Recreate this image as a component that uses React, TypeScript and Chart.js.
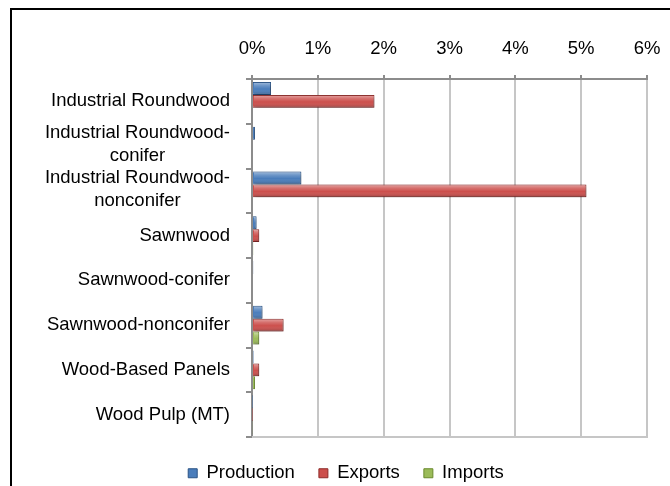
import React, { useEffect, useRef } from "react";
import { Chart, registerables } from "chart.js";

Chart.register(...registerables);

const FONT = '"Liberation Sans", Arial, Helvetica, sans-serif';
const FS = 18.5;

const categories: (string | string[])[] = [
  "Industrial Roundwood",
  ["Industrial Roundwood-", "conifer"],
  ["Industrial Roundwood-", "nonconifer"],
  "Sawnwood",
  "Sawnwood-conifer",
  "Sawnwood-nonconifer",
  "Wood-Based Panels",
  "Wood Pulp (MT)",
];

const production = [0.29, 0.045, 0.75, 0.07, 0.02, 0.16, 0.025, 0.005];
const exportsShare = [1.86, 0.0, 5.08, 0.11, 0.015, 0.48, 0.11, 0.005];
const imports = [0.0, 0.0, 0.0, 0.02, 0.0, 0.11, 0.045, 0.01];

const xTickLabels = ["0%", "1%", "2%", "3%", "4%", "5%", "6%"];

const seriesNames = ["Production", "Exports", "Imports"];
const seriesFill = ["#4a7dbb", "#cc4f4c", "#9bbb59"];
const seriesBorder = ["#2b5486", "#8e2b29", "#6a8a2c"];

const yLabelPlugin = {
  id: "yLabels",
  afterDraw(chart: any) {
    const { ctx } = chart;
    const y = chart.scales.y;
    ctx.save();
    ctx.font = `${FS}px ${FONT}`;
    ctx.fillStyle = "#000";
    ctx.textBaseline = "middle";
    ctx.textAlign = "center";
    const lh = 22.5;
    const right = 230;
    categories.forEach((lab, i) => {
      const lines = Array.isArray(lab) ? lab : [lab];
      const w = Math.max(...lines.map((l) => ctx.measureText(l).width));
      const cx = right - w / 2;
      const cy = y.getPixelForValue(i) + (lines.length > 1 ? -1.5 : 0);
      lines.forEach((l, j) => {
        ctx.fillText(l, cx, cy + (j - (lines.length - 1) / 2) * lh);
      });
    });
    ctx.restore();
  },
};

const barStylePlugin = {
  id: "barStyle",
  beforeDatasetsDraw(chart: any) {
    const { ctx, chartArea } = chart;
    ctx.save();
    ctx.strokeStyle = "#c6c6c6";
    ctx.lineWidth = 2;
    ctx.beginPath();
    ctx.moveTo(chartArea.left, chartArea.bottom);
    ctx.lineTo(chartArea.right + 1, chartArea.bottom);
    ctx.stroke();
    ctx.restore();
    ctx.save();
    ctx.shadowColor = "rgba(0,0,0,0.35)";
    ctx.shadowBlur = 4;
    ctx.shadowOffsetX = 1;
    ctx.shadowOffsetY = 2;
  },
  afterDatasetsDraw(chart: any) {
    const { ctx } = chart;
    ctx.restore();
    ctx.save();
    chart.data.datasets.forEach((_: any, di: number) => {
      const meta = chart.getDatasetMeta(di);
      meta.data.forEach((el: any) => {
        const { x, y, base, height } = el.getProps(["x", "y", "base", "height"], true);
        const left = Math.min(x, base);
        const right = Math.max(x, base);
        if (right - left < 2.5) return;
        const top = y - height / 2;
        const bottom = y + height / 2;
        const g = ctx.createLinearGradient(0, top, 0, bottom);
        g.addColorStop(0, "rgba(255,255,255,0.5)");
        g.addColorStop(0.3, "rgba(255,255,255,0.18)");
        g.addColorStop(0.55, "rgba(255,255,255,0)");
        g.addColorStop(1, "rgba(0,0,0,0.25)");
        ctx.fillStyle = g;
        ctx.fillRect(left + 1, top + 1, right - left - 2, bottom - top - 2);
      });
    });
    ctx.restore();
  },
};

export default function App() {
  const ref = useRef<HTMLCanvasElement | null>(null);

  useEffect(() => {
    const canvas = ref.current;
    if (!canvas) return;
    const chart = new Chart(canvas, {
      type: "bar",
      data: {
        labels: categories as any,
        datasets: [production, exportsShare, imports].map((d, i) => ({
          label: seriesNames[i],
          data: d,
          backgroundColor: seriesFill[i],
          borderColor: seriesBorder[i],
          borderWidth: 1,
          categoryPercentage: 0.87,
          barPercentage: 1,
        })),
      },
      options: {
        indexAxis: "y",
        responsive: false,
        animation: false,
        devicePixelRatio: 1,
        layout: { padding: { left: 45, right: 23, top: 10, bottom: -6.5 } },
        scales: {
          x: {
            position: "top",
            min: 0,
            max: 6,
            ticks: {
              stepSize: 1,
              padding: 15,
              color: "#000",
              font: { family: FONT, size: FS },
              callback: (v: any) => xTickLabels[Number(v)] ?? `${v}%`,
            },
            grid: {
              color: "#c6c6c6",
              lineWidth: 2,
              tickLength: 4,
              tickColor: "#8c8c8c",
            },
            border: { color: "#8c8c8c", width: 2 },
            afterFit: (s: any) => {
              s.height = 69;
              s.paddingLeft = 0;
              s.paddingRight = 0;
            },
          },
          y: {
            ticks: { display: false },
            grid: {
              drawOnChartArea: false,
              tickLength: 6,
              tickColor: "#8c8c8c",
              lineWidth: 2,
            },
            border: { color: "#8c8c8c", width: 2 },
            afterFit: (s: any) => {
              s.width = 207;
            },
          },
        },
        plugins: {
          legend: {
            position: "bottom",
            title: { display: true, text: " ", font: { size: 2.5 }, padding: 0 },
            labels: {
              boxWidth: 9,
              boxHeight: 9,
              padding: 24,
              color: "#000",
              font: { family: FONT, size: FS },
            },
          },
          tooltip: { enabled: false },
        },
      } as any,
      plugins: [barStylePlugin, yLabelPlugin],
    });
    return () => chart.destroy();
  }, []);

  return (
    <div style={{ position: "fixed", left: 0, top: 0, width: 670, height: 486, background: "#fff" }}>
      <canvas ref={ref} width={670} height={486} style={{ display: "block", width: 670, height: 486 }} />
      <div
        style={{
          position: "fixed",
          left: 10,
          top: 8,
          width: 720,
          height: 520,
          border: "2px solid #000",
          boxSizing: "border-box",
          pointerEvents: "none",
        }}
      />
    </div>
  );
}
